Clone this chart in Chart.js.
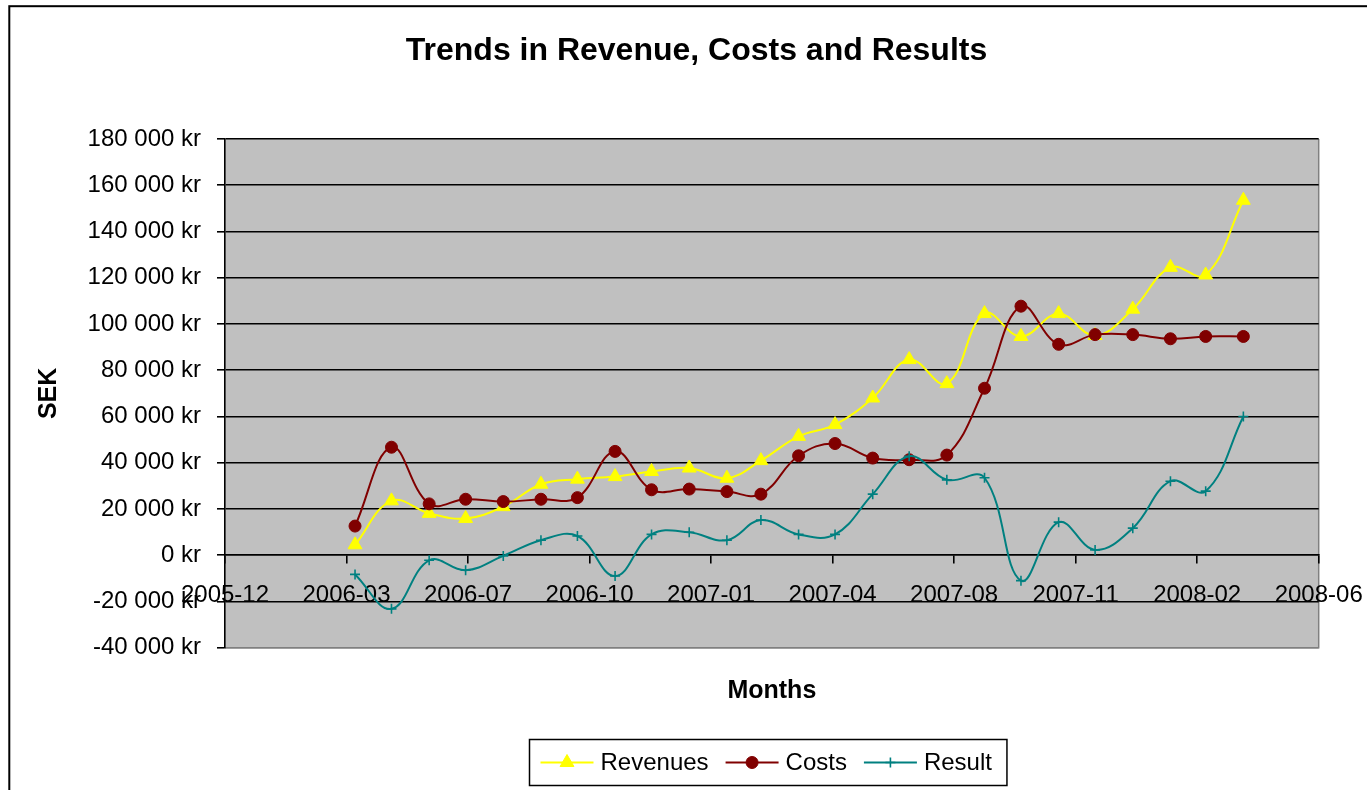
<!DOCTYPE html>
<html><head><meta charset="utf-8">
<script src="https://cdn.jsdelivr.net/npm/chart.js@4.4.1/dist/chart.umd.min.js"></script>
<style>html,body{margin:0;padding:0;background:#fff;overflow:hidden}</style>
</head><body>
<canvas id="c" width="1367" height="790"></canvas>
<script>
// ---- data ----
const months = ['2006-03-31','2006-04-30','2006-05-31','2006-06-30','2006-07-31','2006-08-31','2006-09-30','2006-10-31','2006-11-30','2006-12-31',
                '2007-01-31','2007-02-28','2007-03-31','2007-04-30','2007-05-31','2007-06-30','2007-07-31','2007-08-31','2007-09-30','2007-10-31',
                '2007-11-30','2007-12-31','2008-01-31','2008-02-29','2008-03-31'];
const revenues = [4500, 23500, 18100, 15900, 21000, 30700, 32900, 34000, 36200, 37700,
                  33300, 40900, 51400, 56500, 68000, 84600, 74200, 104500, 94600, 104500,
                  95000, 106400, 124500, 121200, 153500];
const costs = [12600, 46700, 22200, 24200, 23200, 24200, 24900, 44900, 28300, 28600,
               27500, 26400, 43000, 48300, 42000, 41300, 43300, 72200, 107700, 91200,
               95400, 95400, 93600, 94600, 94600];
const result = [-8300, -23200, -2200, -6500, -300, 6500, 8300, -9000, 9000, 9900,
                6500, 15200, 9000, 9000, 26400, 42800, 32600, 33500, -11000, 14300,
                2300, 11700, 32000, 27700, 60000];
const seriesNames = ['Revenues', 'Costs', 'Result'];
const xTickLabels = ['2005-12','2006-03','2006-07','2006-10','2007-01','2007-04','2007-08','2007-11','2008-02','2008-06'];
const yTickValues = [-40000,-20000,0,20000,40000,60000,80000,100000,120000,140000,160000,180000];

// ---- helpers ----
const FONT = "'Liberation Sans', Arial, sans-serif";
function toSerial(s){ const p = s.split('-').map(Number); return (Date.UTC(p[0], p[1]-1, p[2]) - Date.UTC(1899, 11, 30)) / 86400000; }
function fmtKr(v){ const s = Math.abs(v).toString().replace(/\B(?=(\d{3})+(?!\d))/g, ' '); return (v < 0 ? '-' : '') + s + ' kr'; }
const X_MIN = 38700, X_STEP = 100, X_MAX = X_MIN + X_STEP * (xTickLabels.length - 1);
const pts = arr => arr.map((v, i) => ({ x: toSerial(months[i]), y: v }));

const frame = {
  id: 'frame',
  beforeDraw(chart) {
    const { ctx, chartArea: a } = chart;
    ctx.save();
    ctx.fillStyle = '#fff'; ctx.fillRect(0, 0, chart.width, chart.height);
    ctx.strokeStyle = '#000'; ctx.lineWidth = 2;
    ctx.strokeRect(9.3, 6.2, 1500, 1000);
    ctx.fillStyle = '#C0C0C0'; ctx.fillRect(a.left, a.top, a.right - a.left, a.bottom - a.top);
    ctx.strokeStyle = '#808080'; ctx.lineWidth = 1.5;
    ctx.beginPath(); ctx.moveTo(a.right, a.top); ctx.lineTo(a.right, a.bottom); ctx.lineTo(a.left, a.bottom); ctx.stroke();
    ctx.restore();
  }
};

const legendBox = {
  id: 'legendBox',
  afterDraw(chart) {
    const ctx = chart.ctx;
    ctx.save();
    ctx.font = '24px ' + FONT;
    ctx.textBaseline = 'middle';
    const left = 529.5, top = 739.5, h = 46, cy = top + h / 2;
    let x = left + 11;
    chart.data.datasets.forEach(ds => {
      ctx.strokeStyle = ds.borderColor; ctx.lineWidth = 2;
      ctx.beginPath(); ctx.moveTo(x, cy); ctx.lineTo(x + 53, cy); ctx.stroke();
      ctx.fillStyle = ds.pointBackgroundColor; ctx.strokeStyle = ds.pointBorderColor;
      ctx.lineWidth = ds.pointBorderWidth || 1;
      Chart.helpers.drawPoint(ctx, { pointStyle: ds.pointStyle, radius: ds.pointRadius, borderWidth: ds.pointBorderWidth || 1, rotation: 0 }, x + 26.5, cy);
      ctx.fillStyle = '#000';
      ctx.fillText(ds.label, x + 60, cy + 1);
      x = x + 60 + ctx.measureText(ds.label).width + 17;
    });
    const right = x - 17 + 15;
    ctx.strokeStyle = '#000'; ctx.lineWidth = 1.5;
    ctx.strokeRect(left, top, right - left, h);
    ctx.restore();
  }
};

const common = { borderWidth: 2, tension: 0.4, fill: false, xAxisID: 'x', yAxisID: 'y' };

new Chart(document.getElementById('c'), {
  type: 'line',
  data: {
    datasets: [
      Object.assign({}, common, { label: seriesNames[0], data: pts(revenues), order: 2,
        borderColor: '#FFFF00', pointStyle: 'triangle', pointRadius: 8, pointBackgroundColor: '#FFFF00', pointBorderColor: '#FFFF00', pointBorderWidth: 1 }),
      Object.assign({}, common, { label: seriesNames[1], data: pts(costs), order: 1,
        borderColor: '#800000', pointStyle: 'circle', pointRadius: 6, pointBackgroundColor: '#800000', pointBorderColor: '#800000', pointBorderWidth: 1 }),
      Object.assign({}, common, { label: seriesNames[2], data: pts(result), order: 0,
        borderColor: '#008080', pointStyle: 'cross', pointRadius: 5, pointBackgroundColor: '#008080', pointBorderColor: '#008080', pointBorderWidth: 1.6 })
    ]
  },
  options: {
    responsive: false,
    animation: false,
    devicePixelRatio: 1,
    layout: { padding: { left: 26, right: 0, top: 0, bottom: 0 } },
    plugins: {
      legend: { display: false },
      tooltip: { enabled: false },
      title: { display: true, text: 'Trends in Revenue, Costs and Results', color: '#000',
        font: { family: FONT, size: 32, weight: 'bold' }, padding: { top: 31.5, bottom: 69.1 } }
    },
    scales: {
      x: {
        type: 'linear', position: { y: 0 }, min: X_MIN, max: X_MAX,
        afterFit: s => { s.height = 0; s.paddingLeft = 0; s.paddingRight = 0; },
        afterBuildTicks: s => { s.ticks = xTickLabels.map((l, i) => ({ value: X_MIN + i * X_STEP })); },
        ticks: { autoSkip: false, maxRotation: 0, padding: 18, color: '#000', font: { family: FONT, size: 24 },
          callback: (v, i) => xTickLabels[i] },
        grid: { drawOnChartArea: false, drawTicks: true, tickLength: 8, color: '#000', lineWidth: 1.6 },
        border: { display: true, color: '#000', width: 1.6 }
      },
      xTitle: {
        type: 'linear', position: 'bottom', display: true,
        afterFit: s => { s.height = 790 - 647.7; },
        ticks: { display: false }, grid: { display: false }, border: { display: false },
        title: { display: true, text: 'Months', color: '#000', font: { family: FONT, size: 25, weight: 'bold' }, padding: { top: 0, bottom: 84 } }
      },
      yRight: {
        type: 'linear', position: 'right', display: true,
        afterFit: s => { s.width = 1367 - 1318.7; },
        ticks: { display: false }, grid: { display: false }, border: { display: false }
      },
      y: {
        type: 'linear', position: 'left', min: -40000, max: 180000,
        afterFit: s => { s.width = 225 - 26; },
        afterBuildTicks: s => { s.ticks = yTickValues.map(v => ({ value: v })); },
        ticks: { padding: 16, color: '#000', font: { family: FONT, size: 24 }, callback: v => fmtKr(v) },
        grid: { color: c => (c.tick && c.tick.value === -40000) ? '#808080' : '#000', tickColor: '#000', lineWidth: 1.6, tickLength: 8 },
        border: { display: true, color: '#000', width: 1.6 },
        title: { display: true, text: 'SEK', color: '#000', font: { family: FONT, size: 25, weight: 'bold' }, padding: { top: 8, bottom: 0 } }
      }
    }
  },
  plugins: [frame, legendBox]
});
</script>
</body></html>
